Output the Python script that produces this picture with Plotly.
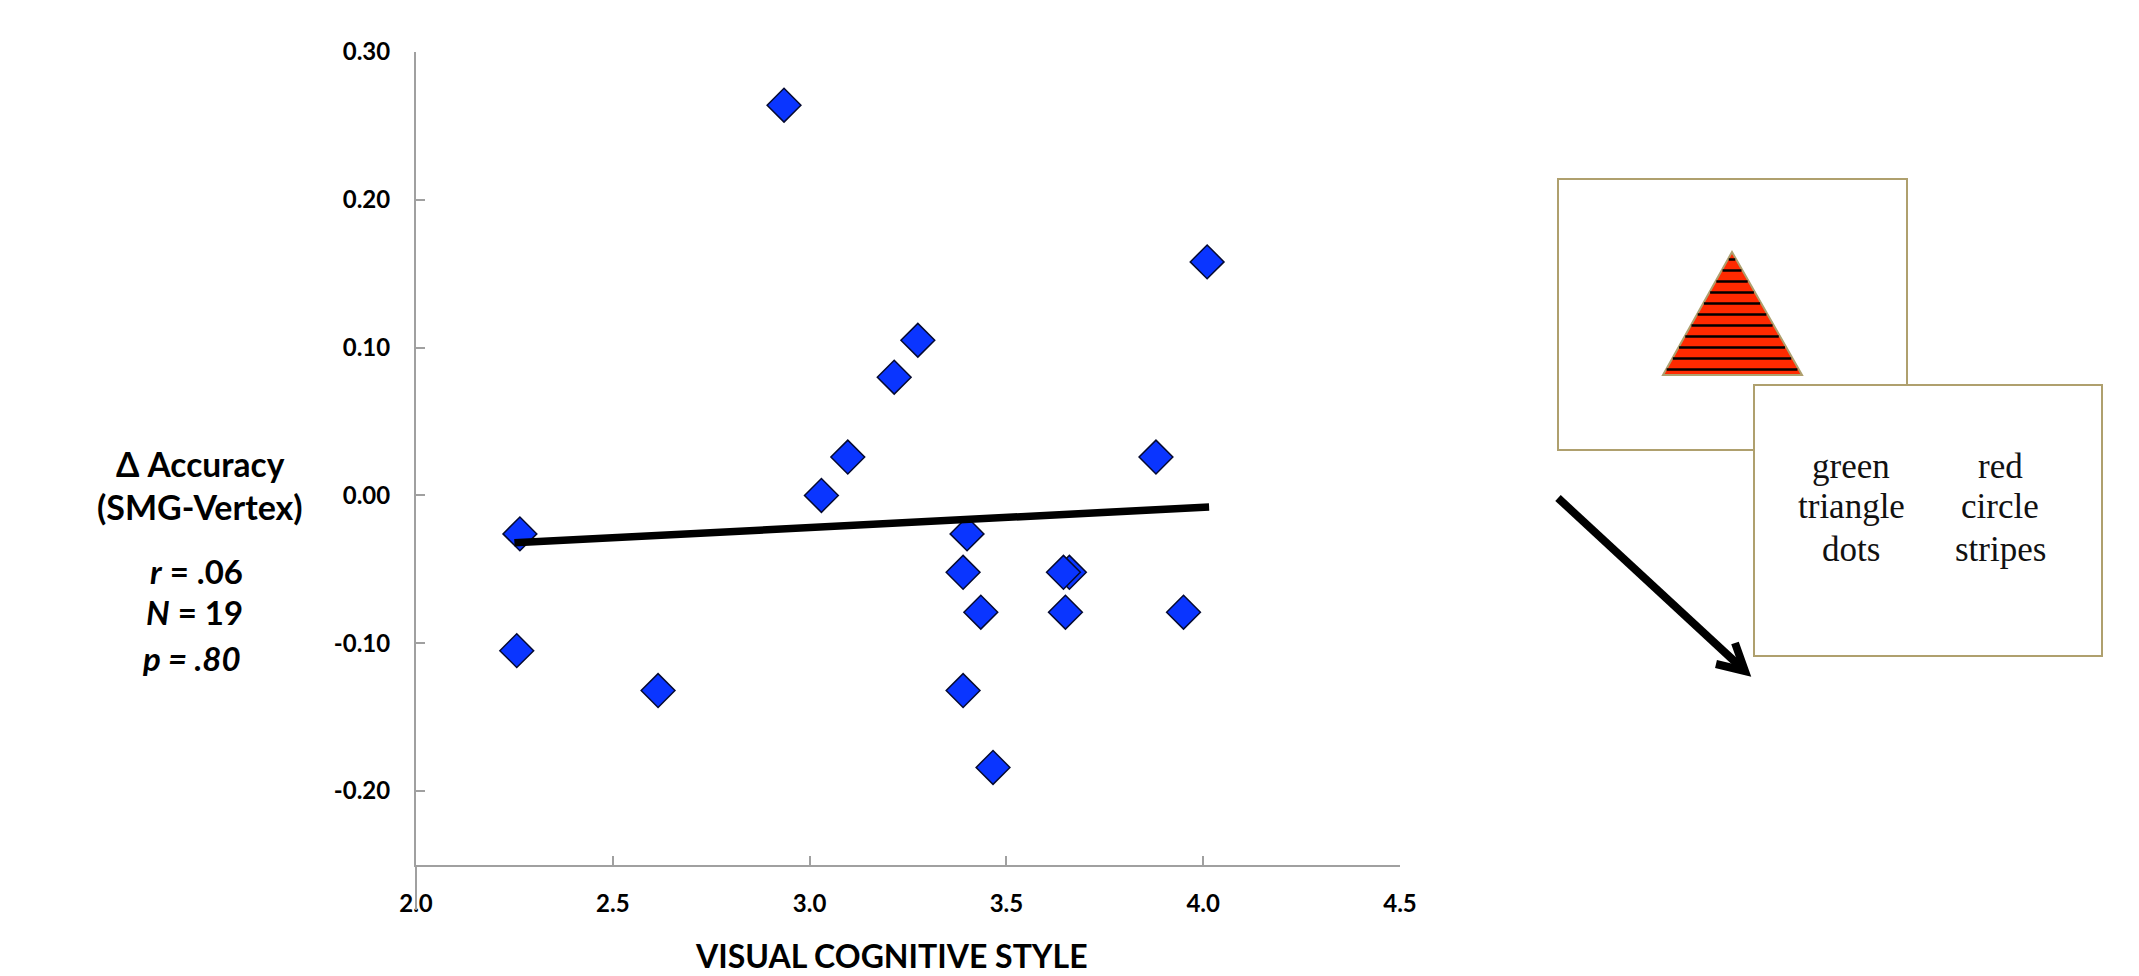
import plotly.graph_objects as go

W, H = 2139, 976
PLOT_L, PLOT_R, PLOT_T, PLOT_B = 416, 1400, 52, 865

style_x = [2.935, 4.01, 3.275, 3.215, 3.097, 3.03, 3.88, 2.264, 3.40, 3.39, 3.66, 3.645, 3.435, 3.65, 3.95, 2.256, 2.615, 3.39, 3.466]
delta_acc = [0.264, 0.158, 0.105, 0.08, 0.026, 0.0, 0.026, -0.026, -0.026, -0.052, -0.052, -0.052, -0.079, -0.079, -0.079, -0.105, -0.132, -0.132, -0.184]
fit_x = [2.25, 4.015]
fit_y = [-0.032, -0.0078]
x_ticks = [2.0, 2.5, 3.0, 3.5, 4.0, 4.5]
y_ticks = [-0.2, -0.1, 0.0, 0.1, 0.2, 0.3]
y_labels = ["-0.20", "-0.10", "0.00", "0.10", "0.20", "0.30"]

SANS = "Lato, Carlito, Calibri, sans-serif"
SERIF = "Liberation Serif, Palatino, serif"
TAN = "#AFA06E"
AXIS = "#A0A0A0"


def px(x):
    return x / W


def py(y):
    return 1 - y / H


fig = go.Figure()
fig.add_trace(go.Scatter(x=style_x, y=delta_acc, mode="markers", cliponaxis=False, showlegend=False,
                         marker=dict(symbol="diamond", size=26, color="#0A35FF", line=dict(color="#050A30", width=1.5))))
fig.add_trace(go.Scatter(x=fit_x, y=fit_y, mode="lines", showlegend=False,
                         line=dict(color="black", width=7.5)))

shapes = []


def rect(x0, y0, x1, y1):
    shapes.append(dict(type="rect", xref="paper", yref="paper", x0=px(x0), x1=px(x1), y0=py(y0), y1=py(y1),
                       fillcolor="white", line=dict(color=TAN, width=2)))


shapes.append(dict(type="line", xref="paper", yref="paper", x0=px(PLOT_L), x1=px(PLOT_L), y0=py(PLOT_B), y1=py(910),
                   line=dict(color=AXIS, width=2)))
rect(1558, 179, 1907, 450)
AX, AY, BY, BL, BR = 1732, 252, 375, 1663, 1802
shapes.append(dict(type="path", xref="paper", yref="paper",
                   path=f"M {px(AX)} {py(AY)} L {px(BR)} {py(BY)} L {px(BL)} {py(BY)} Z",
                   fillcolor="#FF2A00", line=dict(color=TAN, width=2)))
for i in range(11):
    sy = 259.5 + i * 11.0
    half = (sy - AY) / (BY - AY) * (BR - BL) / 2 - 1
    shapes.append(dict(type="line", xref="paper", yref="paper", x0=px(AX - half), x1=px(AX + half),
                       y0=py(sy), y1=py(sy), line=dict(color="black", width=2.5)))
rect(1754, 385, 2102, 656)
shapes.append(dict(type="line", xref="paper", yref="paper", x0=px(1558), y0=py(498), x1=px(1745), y1=py(671),
                   line=dict(color="black", width=8)))
shapes.append(dict(type="path", xref="paper", yref="paper",
                   path=f"M {px(1735)} {py(643)} L {px(1745)} {py(671)} L {px(1716)} {py(664)}",
                   line=dict(color="black", width=8)))

annotations = []


def label(x, y, text, size, family=SANS, color="black"):
    annotations.append(dict(xref="paper", yref="paper", x=px(x), y=py(y), text=text, showarrow=False,
                            xanchor="center", yanchor="middle", align="center",
                            font=dict(family=family, size=size, color=color)))


label(200, 464, "<b>Δ Accuracy</b>", 33.5)
label(200, 506, "<b>(SMG-Vertex)</b>", 34)
label(196, 571, "<b><i>r</i> = .06</b>", 33)
label(194, 612, "<b><i>N</i> = 19</b>", 33)
label(191, 658, "<b><i>p = .80</i></b>", 33)
label(891, 955, "<b>VISUAL COGNITIVE STYLE</b>", 32)
for cx, words in ((1851, ["green", "triangle", "dots"]), (2000, ["red", "circle", "stripes"])):
    for wy, w in zip((467, 506, 549), words):
        label(cx, wy, w, 35, family=SERIF, color="#111111")

fig.update_layout(
    paper_bgcolor="white", plot_bgcolor="white", autosize=True,
    margin=dict(l=0, r=0, t=0, b=0, pad=0, autoexpand=False), shapes=shapes, annotations=annotations, showlegend=False,
    xaxis=dict(domain=[PLOT_L / W, PLOT_R / W], range=[2.0, 4.5], tickvals=x_ticks, tickformat=".1f",
               showgrid=False, zeroline=False, showline=True, linecolor=AXIS, linewidth=2, automargin=False,
               ticks="inside", ticklen=9, tickcolor=AXIS, tickwidth=2, ticklabelstandoff=16,
               tickfont=dict(family=SANS, size=24, color="black", weight="bold")),
    yaxis=dict(domain=[1 - PLOT_B / H, 1 - PLOT_T / H], range=[-0.25, 0.30], tickvals=y_ticks, ticktext=y_labels,
               showgrid=False, zeroline=False, showline=True, linecolor=AXIS, linewidth=2, automargin=False,
               ticks="inside", ticklen=9, tickcolor=AXIS, tickwidth=2, ticklabelstandoff=19,
               tickfont=dict(family=SANS, size=24, color="black", weight="bold")),
)

fig.write_html("out.html", default_width="2139px", default_height="976px",
               config={"displayModeBar": False},
               post_script="document.body.style.margin='0';document.body.style.padding='0';"
                           "document.documentElement.style.overflow='hidden';"
                           "window.dispatchEvent(new Event('resize'));")
